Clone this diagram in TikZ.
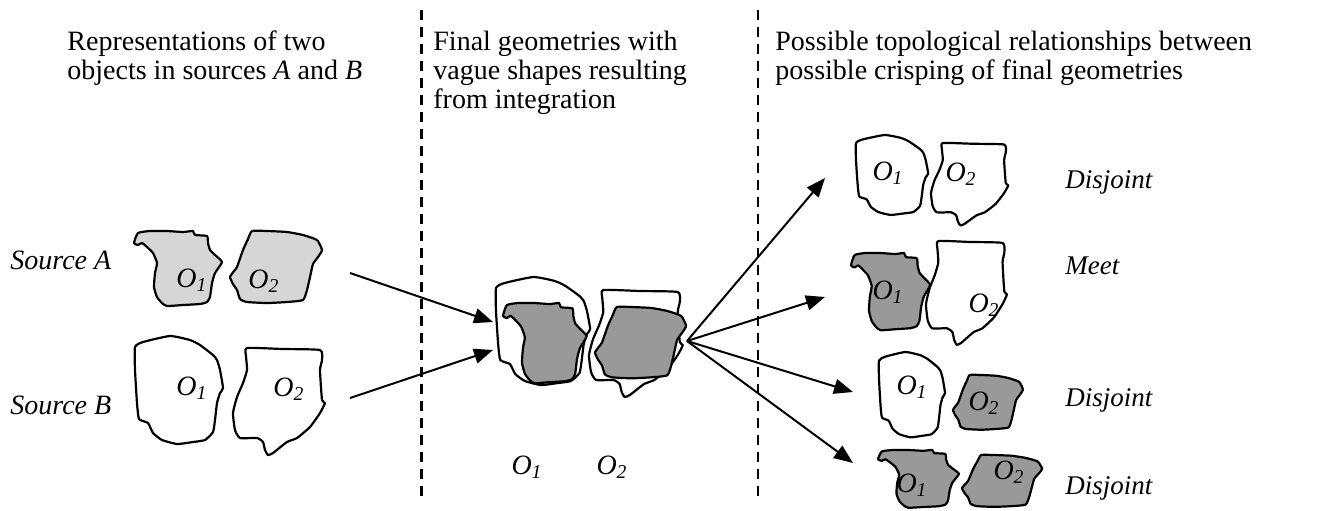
\documentclass[tikz,border=0pt]{standalone}
\usepackage{fontspec}
\setmainfont{Liberation Serif}
\usetikzlibrary{arrows.meta}
\definecolor{shade}{gray}{0.6}
\definecolor{lightshade}{gray}{0.84}
\newcommand\Ob[1]{\textit{O}\textsubscript{\textit{#1}}}
\tikzset{
  outline/.style={line width=1.1pt, line join=round},
  txt/.style={inner sep=0pt, font=\fontsize{14}{14.5}\selectfont},
  relname/.style={inner sep=0pt, font=\fontsize{13.5}{14}\selectfont},
  lbl/.style={inner sep=0pt, font=\fontsize{14}{14.5}\selectfont},
  flow/.style={line width=1pt, -{Triangle[length=9.5pt,width=7.5pt]}},
  divider/.style={line width=1.3pt, dash pattern=on 5pt off 3.5pt},
  % object shape of source A, first object
  pics/aone/.style={code={
    \draw[outline, fill=#1] plot[smooth cycle, tension=0.3] coordinates {
      (0,12) (4,2) (16,0) (33,0) (49,1) (59,0) (61,4) (73,5) (74,12) (76,19)
      (81,24) (88,31) (81,42) (78,52) (76,66) (73,71) (66,73) (49,74) (33,75)
      (28,72) (23,66) (20,56) (21,42) (23,32) (19,22) (13,16) (8,12) (4,14)};}},
  % object shape of source A, second object
  pics/atwo/.style={code={
    \draw[outline, fill=#1] plot[smooth cycle, tension=0.3] coordinates {
      (0,46) (4,40) (7,36) (13,19) (18,8) (22,0) (37,0) (57,1) (73,4) (87,9)
      (92,19) (88,26) (83,33) (80,46) (77,59) (73,69) (57,71) (37,72) (17,71)
      (10,68) (7,59) (3,53)};}},
  % object shape of source B, first object
  pics/bone/.style={code={
    \draw[outline, fill=#1] plot[smooth cycle, tension=0.3] coordinates {
      (0,11) (8,6) (35,0) (55,4) (65,9) (78,19) (82,24) (85,34) (88,52) (85,57)
      (82,67) (80,84) (78,96) (70,104) (58,106) (42,108) (27,104) (18,97)
      (13,87) (4,83) (2,67) (0,34)};}},
  % object shape of source B, second object
  pics/btwo/.style={code={
    \draw[outline, fill=#1] plot[smooth cycle, tension=0.3] coordinates {
      (14,0) (50,1) (87,2) (89,12) (87,22) (89,52) (92,55) (87,65) (77,79)
      (64,90) (54,94) (40,105) (35,107) (32,102) (30,94) (24,90) (7,90) (2,82)
      (0,65) (4,49) (10,35) (14,22) (13,8)};}}
}
\begin{document}
\begin{tikzpicture}[x=0.5pt, y=-0.5pt]
\useasboundingbox (0,0) rectangle (1320,510);

% column dividers
\coordinate (d1top) at (421.5,10);
\coordinate (d1bot) at (421.5,500);
\coordinate (d2top) at (758,10);
\coordinate (d2bot) at (758,500);
\draw[divider] (d1top) -- (d1bot);
\draw[divider] (d2top) -- (d2bot);

% column headings
\node[txt, anchor=base west] (hA1) at (67,50) {Representations of two};
\node[txt, anchor=base west] (hA2) at (67,79) {objects in sources \textit{A} and \textit{B}};
\node[txt, anchor=base west] (hB1) at (433,50) {Final geometries with};
\node[txt, anchor=base west] (hB2) at (433,79) {vague shapes resulting};
\node[txt, anchor=base west] (hB3) at (433,108) {from integration};
\node[txt, anchor=base west] (hC1) at (775,50) {Possible topological relationships between};
\node[txt, anchor=base west] (hC2) at (775,79) {possible crisping of final geometries};

% sources
\node[txt, anchor=west] (srcA) at (10,260) {\textit{Source A}};
\node[txt, anchor=west] (srcB) at (10,405) {\textit{Source B}};

\pic at (134,231) {aone=lightshade};
\pic at (230,231) {atwo=lightshade};
\pic at (135,336) {bone=white};
\pic at (233,348) {btwo=white};
\node[lbl] (a1) at (192,280) {\Ob{1}};
\node[lbl] (a2) at (264,281) {\Ob{2}};
\node[lbl] (b1) at (192,388) {\Ob{1}};
\node[lbl] (b2) at (289,389) {\Ob{2}};

% integrated vague geometries
\pic[xscale=1.07] at (496,277) {bone=white};
\pic[xscale=1.02] at (589,290) {btwo=white};
\pic[xscale=0.95, yscale=1.07] at (503,303) {aone=shade};
\pic[xscale=0.99, yscale=0.99] at (595,307) {atwo=shade};
\node[lbl] (m1) at (527,467) {\Ob{1}};
\node[lbl] (m2) at (612,467) {\Ob{2}};

% possible crisp results
\pic[xscale=0.82, yscale=0.74] at (856,135) {bone=white};
\pic[xscale=0.84, yscale=0.77] at (931,143) {btwo=white};
\node[lbl] (r11) at (888,173) {\Ob{1}};
\node[lbl] (r12) at (961,174) {\Ob{2}};

\pic[xscale=0.9, yscale=1.03] at (851,253) {aone=shade};
\pic[xscale=0.88, yscale=0.97] at (926,241) {btwo=white};
\node[lbl] (r21) at (888,292) {\Ob{1}};
\node[lbl] (r22) at (984,305) {\Ob{2}};

\pic[xscale=0.75, yscale=0.79] at (879,352) {bone=white};
\pic[xscale=0.76, yscale=0.76] at (953,375) {atwo=shade};
\node[lbl] (r31) at (912,387) {\Ob{1}};
\node[lbl] (r32) at (984,403) {\Ob{2}};

\pic[xscale=0.92, yscale=0.77] at (878,450) {aone=shade};
\pic[xscale=0.87, yscale=0.72] at (962,455) {atwo=shade};
\node[lbl] (r41) at (912,485) {\Ob{1}};
\node[lbl] (r42) at (1009,472) {\Ob{2}};

\node[relname, anchor=west] (rel1) at (1065,182) {\textit{Disjoint}};
\node[relname, anchor=west] (rel2) at (1065,266) {\textit{Meet}};
\node[relname, anchor=west] (rel3) at (1065,400) {\textit{Disjoint}};
\node[relname, anchor=west] (rel4) at (1065,488) {\textit{Disjoint}};

% flow arrows
\coordinate (fromA) at (350,273);
\coordinate (fromB) at (350,398);
\coordinate (intoTop) at (493,322);
\coordinate (intoBot) at (493,350);
\coordinate (fan) at (687,341);
\coordinate (to1) at (825,178);
\coordinate (to2) at (825,297);
\coordinate (to3) at (853,392);
\coordinate (to4) at (853,463);
\draw[flow] (fromA) -- (intoTop);
\draw[flow] (fromB) -- (intoBot);
\foreach \t in {to1,to2,to3,to4}
  \draw[flow] (fan) -- (\t);
\end{tikzpicture}
\end{document}
